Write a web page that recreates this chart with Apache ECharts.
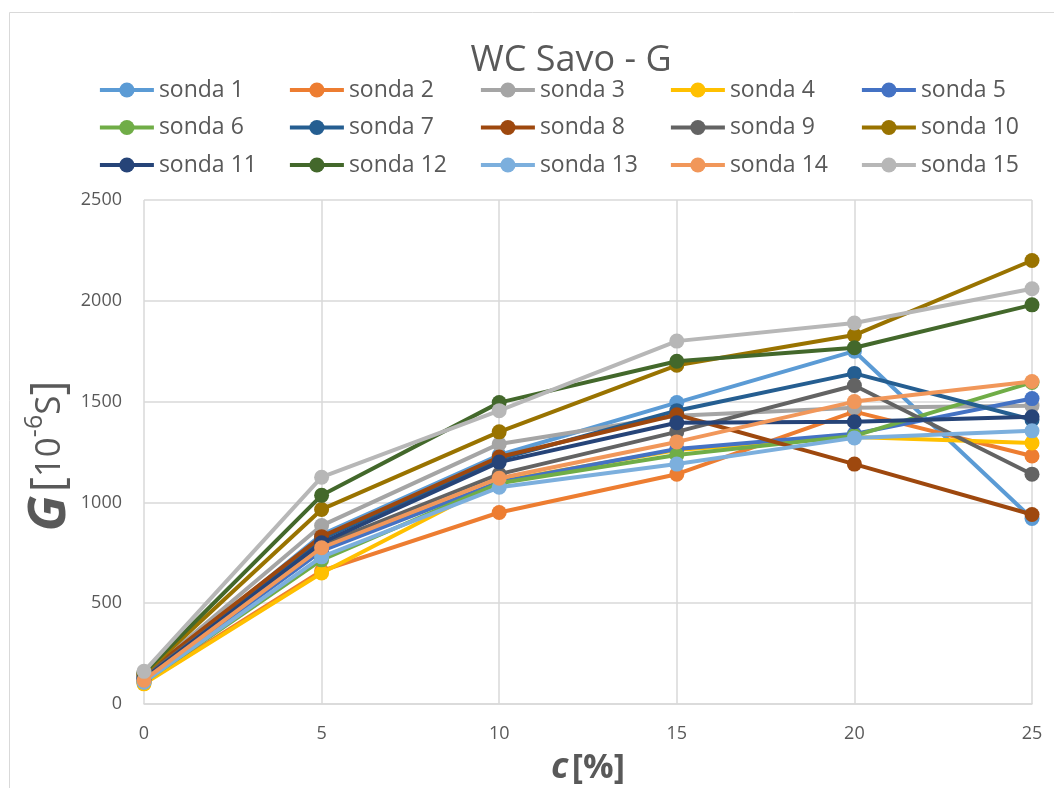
<!DOCTYPE html>
<html>
<head>
<meta charset="utf-8">
<script src="https://cdn.jsdelivr.net/npm/echarts@6/dist/echarts.min.js"></script>
<style>
html,body{margin:0;padding:0;background:#fff;}
#chart{width:1054px;height:788px;}
</style>
</head>
<body>
<div id="chart"></div>
<script>
const xValues = [0, 5, 10, 15, 20, 25];
const seriesNames = ['sonda 1','sonda 2','sonda 3','sonda 4','sonda 5','sonda 6','sonda 7','sonda 8','sonda 9','sonda 10','sonda 11','sonda 12','sonda 13','sonda 14','sonda 15'];
const sonda1  = [120, 840, 1235, 1495, 1750, 920];
const sonda2  = [105, 660, 950, 1140, 1450, 1230];
const sonda3  = [140, 885, 1290, 1430, 1470, 1480];
const sonda4  = [100, 650, 1105, 1260, 1325, 1295];
const sonda5  = [115, 760, 1100, 1265, 1340, 1515];
const sonda6  = [110, 715, 1095, 1235, 1330, 1595];
const sonda7  = [130, 820, 1215, 1455, 1640, 1410];
const sonda8  = [145, 830, 1225, 1435, 1190, 940];
const sonda9  = [135, 790, 1140, 1350, 1580, 1140];
const sonda10 = [150, 965, 1350, 1680, 1830, 2200];
const sonda11 = [125, 800, 1200, 1395, 1400, 1425];
const sonda12 = [155, 1035, 1495, 1700, 1767, 1980];
const sonda13 = [108, 730, 1075, 1190, 1320, 1355];
const sonda14 = [118, 775, 1120, 1300, 1500, 1600];
const sonda15 = [162, 1125, 1455, 1800, 1890, 2060];
const yTicks = [0, 500, 1000, 1500, 2000, 2500];
const xTicks = [0, 5, 10, 15, 20, 25];

const allValues = [sonda1,sonda2,sonda3,sonda4,sonda5,sonda6,sonda7,sonda8,sonda9,sonda10,sonda11,sonda12,sonda13,sonda14,sonda15];
const colors = ['#5B9BD5','#ED7D31','#A5A5A5','#FFC000','#4472C4','#70AD47','#255E91','#9E480E','#636363','#997300','#264478','#43682B','#7CAFDD','#F1975A','#B7B7B7'];

const series = seriesNames.map((n, i) => ({
  name: n,
  type: 'line',
  data: xValues.map((x, j) => [x, allValues[i][j]]),
  symbol: 'circle',
  symbolSize: 15,
  lineStyle: {width: 4, color: colors[i]},
  itemStyle: {color: colors[i]},
  emphasis: {disabled: true},
  z: 2 + i * 0.01
}));

const legendCols = [98, 288, 479, 669, 860];
function legendCol(col) {
  return {
    data: [seriesNames[col], seriesNames[col + 5], seriesNames[col + 10]],
    top: 77,
    left: legendCols[col],
    padding: 0,
    orient: 'vertical',
    itemWidth: 54,
    itemHeight: 19,
    itemGap: 11.5,
    selectedMode: false,
    lineStyle: {width: 3.8},
    textStyle: {fontFamily: 'Open Sans', fontSize: 23, color: '#595959', lineHeight: 26, padding: [0,0,0,0]}
  };
}

const chart = echarts.init(document.getElementById('chart'), null, {renderer: 'canvas'});
chart.setOption({
  animation: false,
  backgroundColor: '#fff',
  color: colors,
  title: {
    text: 'WC Savo - G',
    left: 566, textAlign: 'center', top: 38,
    textStyle: {fontFamily: 'Open Sans', fontSize: 36, fontWeight: 'normal', color: '#595959'}
  },
  legend: [0,1,2,3,4].map(legendCol),
  grid: {left: 144, right: 22, top: 200, bottom: 84, outerBoundsMode: 'none', containLabel: false},
  xAxis: {
    type: 'value', min: xTicks[0], max: xTicks[xTicks.length-1], interval: 5,
    axisLine: {show: true, lineStyle: {color: '#d9d9d9', width: 1.5}},
    axisTick: {show: false},
    splitLine: {show: true, lineStyle: {color: '#d9d9d9', width: 1.5}},
    axisLabel: {fontFamily: 'Open Sans', fontSize: 18, color: '#595959', margin: 21},
    name: '{c|c} {p|[%]}',
    nameLocation: 'middle', nameGap: 46,
    nameTextStyle: {
      rich: {
        c: {fontFamily: 'Open Sans', fontSize: 36, fontStyle: 'italic', fontWeight: 'bold', color: '#595959'},
        p: {fontFamily: 'Open Sans', fontSize: 34, fontWeight: 'bold', color: '#595959'}
      }
    }
  },
  yAxis: {
    type: 'value', min: yTicks[0], max: yTicks[yTicks.length-1], interval: 500,
    axisLine: {show: false},
    axisTick: {show: false},
    splitLine: {show: true, lineStyle: {color: '#d9d9d9', width: 1.5}},
    axisLabel: {fontFamily: 'Open Sans', fontSize: 18, color: '#595959', margin: 22, formatter: v => String(v)}
  },
  graphic: [
    {type: 'rect', shape: {x: 9.5, y: 12.5, width: 1100, height: 900}, style: {fill: 'none', stroke: '#d9d9d9', lineWidth: 1}, silent: true, z: -10},
    {
      type: 'text', x: 50, y: 456, rotation: Math.PI / 2,
      style: {
        text: '{g|G} {br|[}{d|10}{s|-6}{d|S}{br|]}',
        align: 'center', verticalAlign: 'middle',
        rich: {
          g: {fontFamily: 'Open Sans', fontSize: 52, fontStyle: 'italic', fontWeight: 'bold', fill: '#595959', lineHeight: 56},
          br: {fontFamily: 'Open Sans', fontSize: 46, fill: '#595959', lineHeight: 56},
          d: {fontFamily: 'Open Sans', fontSize: 35, fill: '#595959', lineHeight: 56},
          s: {fontFamily: 'Open Sans', fontSize: 25, fill: '#595959', lineHeight: 28, verticalAlign: 'top'}
        }
      }
    }
  ],
  series: series
});
</script>
</body>
</html>
